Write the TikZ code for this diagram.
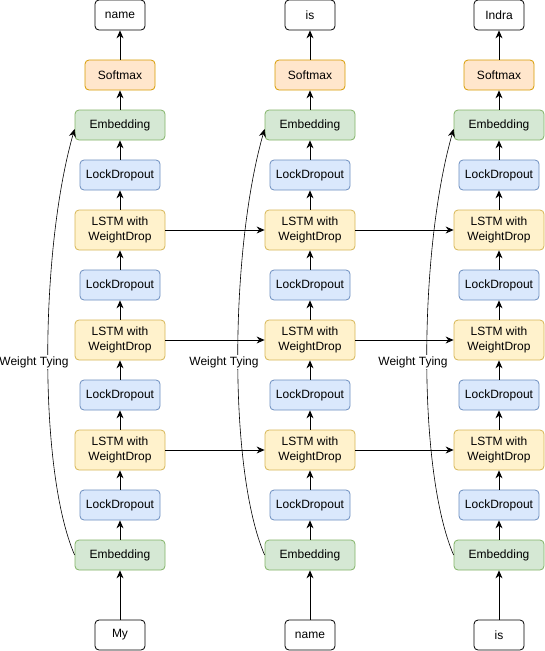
\documentclass[tikz,border=0pt]{standalone}
\usepackage{fontspec}
\setmainfont{Liberation Sans}
\usepackage{tikz}
\usetikzlibrary{arrows.meta}
\usetikzlibrary{positioning}
\usepackage{xcolor}
\definecolor{softfill}{HTML}{FFE6CC}
\definecolor{softline}{HTML}{D79B00}
\definecolor{embfill}{HTML}{D5E8D4}
\definecolor{embline}{HTML}{82B366}
\definecolor{dropfill}{HTML}{DAE8FC}
\definecolor{dropline}{HTML}{6C8EBF}
\definecolor{lstmfill}{HTML}{FFF2CC}
\definecolor{lstmline}{HTML}{D6B656}
\tikzset{
    block/.style={
        draw,
        rounded corners=4pt,
        inner sep=0pt,
        align=center,
        line width=0.8pt,
        font=\fontsize{12}{14.5}\selectfont,
        minimum height=30pt
    },
    word/.style={block, fill=white, draw=black, minimum width=50pt},
    softmax/.style={block, fill=softfill, draw=softline, minimum width=70pt},
    embed/.style={block, fill=embfill, draw=embline, minimum width=90pt},
    lockdrop/.style={block, fill=dropfill, draw=dropline, minimum width=80pt},
    lstm/.style={block, fill=lstmfill, draw=lstmline, minimum width=90pt, minimum height=40pt},
    link/.style={
        draw,
        -{Stealth[length=8pt, width=7pt]},
        line width=0.8pt
    },
    tielabel/.style={fill=white, inner sep=1pt, font=\fontsize{12}{14}\selectfont}
}

\begin{document}
\begin{tikzpicture}[x=1pt, y=-1pt]
    \useasboundingbox (0,0) rectangle (544,651);

    % First time step
    \begin{scope}[shift={(0,0)}]
        \node[word] (out1) at (120,15) {name};
        \node[softmax] (soft1) at (120,75) {Softmax};
        \node[embed] (embtop1) at (120,125) {Embedding};
        \node[lockdrop] (drop1a) at (120,175) {LockDropout};
        \node[lstm] (lstm1a) at (120,230) {LSTM with\\WeightDrop};
        \node[lockdrop] (drop1b) at (120,285) {LockDropout};
        \node[lstm] (lstm1b) at (120,340) {LSTM with\\WeightDrop};
        \node[lockdrop] (drop1c) at (120,395) {LockDropout};
        \node[lstm] (lstm1c) at (120,450) {LSTM with\\WeightDrop};
        \node[lockdrop] (drop1d) at (120,505) {LockDropout};
        \node[embed] (embbot1) at (120,555) {Embedding};
        \node[word] (in1) at (120,635) {My};

        % Stack, bottom to top
        \draw[link] (in1) -- (embbot1);
        \draw[link] (embbot1) -- (drop1d);
        \draw[link] (drop1d) -- (lstm1c);
        \draw[link] (lstm1c) -- (drop1c);
        \draw[link] (drop1c) -- (lstm1b);
        \draw[link] (lstm1b) -- (drop1b);
        \draw[link] (drop1b) -- (lstm1a);
        \draw[link] (lstm1a) -- (drop1a);
        \draw[link] (drop1a) -- (embtop1);
        \draw[link] (embtop1) -- (soft1);
        \draw[link] (soft1) -- (out1);

        % Weight tying
        \draw[link, line width=0.6pt] (embbot1.west) .. controls (38,470) and (40,250) .. ([yshift=-4pt]embtop1.west);
        \node[tielabel] (tie1) at (34,362) {Weight Tying};
    \end{scope}

    % Second time step
    \begin{scope}[shift={(190,0)}]
        \node[word] (out2) at (120,15) {is};
        \node[softmax] (soft2) at (120,75) {Softmax};
        \node[embed] (embtop2) at (120,125) {Embedding};
        \node[lockdrop] (drop2a) at (120,175) {LockDropout};
        \node[lstm] (lstm2a) at (120,230) {LSTM with\\WeightDrop};
        \node[lockdrop] (drop2b) at (120,285) {LockDropout};
        \node[lstm] (lstm2b) at (120,340) {LSTM with\\WeightDrop};
        \node[lockdrop] (drop2c) at (120,395) {LockDropout};
        \node[lstm] (lstm2c) at (120,450) {LSTM with\\WeightDrop};
        \node[lockdrop] (drop2d) at (120,505) {LockDropout};
        \node[embed] (embbot2) at (120,555) {Embedding};
        \node[word] (in2) at (120,635) {name};

        % Stack, bottom to top
        \draw[link] (in2) -- (embbot2);
        \draw[link] (embbot2) -- (drop2d);
        \draw[link] (drop2d) -- (lstm2c);
        \draw[link] (lstm2c) -- (drop2c);
        \draw[link] (drop2c) -- (lstm2b);
        \draw[link] (lstm2b) -- (drop2b);
        \draw[link] (drop2b) -- (lstm2a);
        \draw[link] (lstm2a) -- (drop2a);
        \draw[link] (drop2a) -- (embtop2);
        \draw[link] (embtop2) -- (soft2);
        \draw[link] (soft2) -- (out2);

        % Weight tying
        \draw[link, line width=0.6pt] (embbot2.west) .. controls (38,470) and (40,250) .. ([yshift=-4pt]embtop2.west);
        \node[tielabel] (tie2) at (34,362) {Weight Tying};
    \end{scope}

    % Third time step
    \begin{scope}[shift={(379,0)}]
        \node[word] (out3) at (120,15) {Indra};
        \node[softmax] (soft3) at (120,75) {Softmax};
        \node[embed] (embtop3) at (120,125) {Embedding};
        \node[lockdrop] (drop3a) at (120,175) {LockDropout};
        \node[lstm] (lstm3a) at (120,230) {LSTM with\\WeightDrop};
        \node[lockdrop] (drop3b) at (120,285) {LockDropout};
        \node[lstm] (lstm3b) at (120,340) {LSTM with\\WeightDrop};
        \node[lockdrop] (drop3c) at (120,395) {LockDropout};
        \node[lstm] (lstm3c) at (120,450) {LSTM with\\WeightDrop};
        \node[lockdrop] (drop3d) at (120,505) {LockDropout};
        \node[embed] (embbot3) at (120,555) {Embedding};
        \node[word] (in3) at (120,635) {is};

        % Stack, bottom to top
        \draw[link] (in3) -- (embbot3);
        \draw[link] (embbot3) -- (drop3d);
        \draw[link] (drop3d) -- (lstm3c);
        \draw[link] (lstm3c) -- (drop3c);
        \draw[link] (drop3c) -- (lstm3b);
        \draw[link] (lstm3b) -- (drop3b);
        \draw[link] (drop3b) -- (lstm3a);
        \draw[link] (lstm3a) -- (drop3a);
        \draw[link] (drop3a) -- (embtop3);
        \draw[link] (embtop3) -- (soft3);
        \draw[link] (soft3) -- (out3);

        % Weight tying
        \draw[link, line width=0.6pt] (embbot3.west) .. controls (38,470) and (40,250) .. ([yshift=-4pt]embtop3.west);
        \node[tielabel] (tie3) at (34,362) {Weight Tying};
    \end{scope}

    % Hidden state passed between time steps
    \draw[link] (lstm1a) -- (lstm2a);
    \draw[link] (lstm1b) -- (lstm2b);
    \draw[link] (lstm1c) -- (lstm2c);
    \draw[link] (lstm2a) -- (lstm3a);
    \draw[link] (lstm2b) -- (lstm3b);
    \draw[link] (lstm2c) -- (lstm3c);
\end{tikzpicture}
\end{document}
